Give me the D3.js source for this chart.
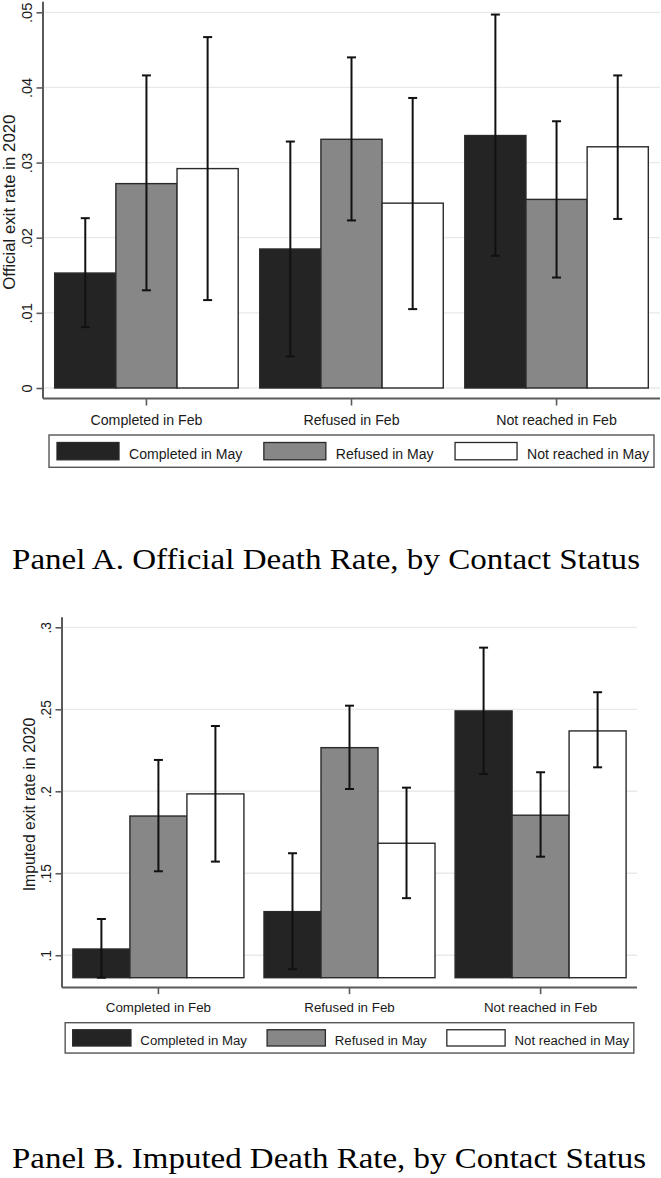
<!DOCTYPE html>
<html>
<head>
<meta charset="utf-8">
<script src="https://cdn.jsdelivr.net/npm/d3@7"></script>
<style>
  body { margin: 0; background: #fff; }
  svg { display: block; }
  text { font-family: "Liberation Sans", Arial, Helvetica, sans-serif; fill: #1a1a1a; }
  .panelTitle { font-family: "Liberation Serif", "Times New Roman", serif; fill: #000; }
</style>
</head>
<body>
<div id="chart"></div>
<script>
const W = 661, H = 1178;

const groups = ["Completed in Feb", "Refused in Feb", "Not reached in Feb"];
const series = ["Completed in May", "Refused in May", "Not reached in May"];
const seriesColors = ["#242424", "#878787", "#ffffff"];

// panel A: official exit rate, one row per Feb status, one column per May status
const officialRate = [
  [0.0153, 0.0272, 0.0292],
  [0.0185, 0.0331, 0.0246],
  [0.0336, 0.0251, 0.0321]
];
const officialLow = [
  [0.0081, 0.0130, 0.0117],
  [0.0042, 0.0223, 0.0105],
  [0.0176, 0.0147, 0.0225]
];
const officialHigh = [
  [0.0226, 0.0416, 0.0467],
  [0.0328, 0.0440, 0.0386],
  [0.0497, 0.0355, 0.0416]
];
const officialTicks = [0, 0.01, 0.02, 0.03, 0.04, 0.05];
const officialTickLabels = ["0", ".01", ".02", ".03", ".04", ".05"];

// panel B: imputed exit rate
const imputedRate = [
  [0.1038, 0.1849, 0.1984],
  [0.1266, 0.2266, 0.1683],
  [0.2490, 0.1854, 0.2368]
];
const imputedLow = [
  [0.0860, 0.1512, 0.1571],
  [0.0915, 0.2014, 0.1348],
  [0.2105, 0.1601, 0.2146]
];
const imputedHigh = [
  [0.1221, 0.2191, 0.2398],
  [0.1622, 0.2522, 0.2022],
  [0.2876, 0.2116, 0.2604]
];
const imputedTicks = [0.1, 0.15, 0.2, 0.25, 0.3];
const imputedTickLabels = [".1", ".15", ".2", ".25", ".3"];

const svg = d3.select("#chart").append("svg")
  .attr("width", W)
  .attr("height", H);

const drawPanel = (p) => {
  const k = p.k;
  const g = svg.append("g");

  const x = d3.scaleBand()
    .domain(groups)
    .range([p.left, p.right])
    .paddingInner(0.105)
    .paddingOuter(0.057);

  const xSub = d3.scaleBand()
    .domain(series)
    .range([0, x.bandwidth()]);

  const y = d3.scaleLinear()
    .domain(p.domain)
    .range([p.bottom, p.top]);

  const axisY = p.bottom + 10.5 * k;
  const axisTop = p.top - 10.6 * k;

  // gridlines
  g.append("g").selectAll("line")
    .data(p.ticks)
    .join("line")
      .attr("x1", p.left)
      .attr("x2", p.right)
      .attr("y1", d => y(d))
      .attr("y2", d => y(d))
      .attr("stroke", "#e9e9e9")
      .attr("stroke-width", 1.3);

  // bars
  const rows = p.rate.map((r, i) => r.map((v, j) => ({
    group: groups[i], s: series[j], color: seriesColors[j],
    v: v, lo: Math.max(p.low[i][j], p.domain[0]), hi: p.high[i][j]
  }))).flat();

  g.append("g").selectAll("rect")
    .data(rows)
    .join("rect")
      .attr("x", d => x(d.group) + xSub(d.s))
      .attr("y", d => y(d.v))
      .attr("width", xSub.bandwidth())
      .attr("height", d => y(p.domain[0]) - y(d.v))
      .attr("fill", d => d.color)
      .attr("stroke", "#2a2a2a")
      .attr("stroke-width", 1.4);

  // error bars
  const eb = g.append("g").attr("stroke", "#111").attr("stroke-width", 2).selectAll("g")
    .data(rows)
    .join("g")
      .attr("transform", d => `translate(${x(d.group) + xSub(d.s) + xSub.bandwidth() / 2},0)`);
  eb.append("line").attr("y1", d => y(d.lo)).attr("y2", d => y(d.hi));
  eb.append("line").attr("x1", -4.5).attr("x2", 4.5).attr("y1", d => y(d.hi)).attr("y2", d => y(d.hi));
  eb.append("line").attr("x1", -4.5).attr("x2", 4.5).attr("y1", d => y(d.lo)).attr("y2", d => y(d.lo));

  // y axis
  const yAxis = g.append("g")
    .attr("transform", `translate(${p.left},0)`)
    .call(d3.axisLeft(y)
      .tickValues(p.ticks)
      .tickFormat((d, i) => p.tickLabels[i])
      .tickSize(6.5)
      .tickSizeOuter(0));
  yAxis.select(".domain").remove();
  yAxis.selectAll(".tick line").attr("stroke", "#5a5a5a").attr("stroke-width", 1.6);
  yAxis.selectAll(".tick text")
    .attr("transform", "rotate(-90)")
    .attr("x", 0)
    .attr("y", -11.5)
    .attr("dy", null)
    .attr("text-anchor", "middle")
    .attr("font-family", null)
    .attr("font-size", 14.6 * k)
    .attr("fill", "#1a1a1a");

  g.append("line")
    .attr("x1", p.left).attr("x2", p.left)
    .attr("y1", axisTop).attr("y2", axisY)
    .attr("stroke", "#5a5a5a").attr("stroke-width", 2);

  g.append("text")
    .attr("transform", `translate(${p.left - 28.5 * k},${(p.top + p.bottom) / 2 + 2}) rotate(-90)`)
    .attr("text-anchor", "middle")
    .attr("font-size", 16.8 * k)
    .text(p.ytitle);

  // x axis
  const xAxis = g.append("g")
    .attr("transform", `translate(0,${axisY})`)
    .call(d3.axisBottom(x).tickSize(7 * k).tickSizeOuter(0));
  xAxis.select(".domain").remove();
  xAxis.selectAll(".tick line").attr("stroke", "#5a5a5a").attr("stroke-width", 1.6);
  xAxis.selectAll(".tick text")
    .attr("y", 26 * k)
    .attr("dy", null)
    .attr("font-family", null)
    .attr("font-size", 14.2 * k)
    .attr("fill", "#1a1a1a");

  g.append("line")
    .attr("x1", p.left).attr("x2", p.right)
    .attr("y1", axisY).attr("y2", axisY)
    .attr("stroke", "#5a5a5a").attr("stroke-width", 2);

  // legend
  const lg = g.append("g");
  const box = lg.append("rect");
  const swW = 62 * k, swH = 17.3 * k, legH = 32.3 * k;
  let cx = 8 * k;
  series.forEach((s, i) => {
    lg.append("rect")
      .attr("x", cx).attr("y", (legH - swH) / 2)
      .attr("width", swW).attr("height", swH)
      .attr("fill", seriesColors[i])
      .attr("stroke", "#2a2a2a").attr("stroke-width", 1.3);
    cx += swW + 10 * k;
    const t = lg.append("text")
      .attr("x", cx).attr("y", 23.5 * k)
      .attr("font-size", 14.07 * k)
      .text(s);
    cx += t.node().getComputedTextLength();
    if (i < series.length - 1) cx += 21.5 * k;
  });
  cx += 5 * k;
  box.attr("width", cx).attr("height", legH)
    .attr("fill", "#fff").attr("stroke", "#555").attr("stroke-width", 1.4);
  lg.attr("transform", `translate(${(p.left + p.right) / 2 - cx / 2},${p.legendTop})`);

  // panel caption
  g.append("text")
    .attr("class", "panelTitle")
    .attr("x", 12)
    .attr("y", p.titleY)
    .attr("font-size", 29.5)
    .attr("textLength", p.titleWidth)
    .attr("lengthAdjust", "spacingAndGlyphs")
    .text(p.title);
};

drawPanel({
  k: 1, left: 43, right: 660, top: 12.3, bottom: 388,
  domain: [0, 0.05], ticks: officialTicks, tickLabels: officialTickLabels,
  rate: officialRate, low: officialLow, high: officialHigh,
  ytitle: "Official exit rate in 2020",
  legendTop: 435, titleY: 569, titleWidth: 628,
  title: "Panel A. Official Death Rate, by Contact Status"
});

drawPanel({
  k: 0.94, left: 62, right: 637, top: 627.3, bottom: 977.7,
  domain: [0.0863, 0.3], ticks: imputedTicks, tickLabels: imputedTickLabels,
  rate: imputedRate, low: imputedLow, high: imputedHigh,
  ytitle: "Imputed exit rate in 2020",
  legendTop: 1022.7, titleY: 1168, titleWidth: 634,
  title: "Panel B. Imputed Death Rate, by Contact Status"
});
</script>
</body>
</html>
